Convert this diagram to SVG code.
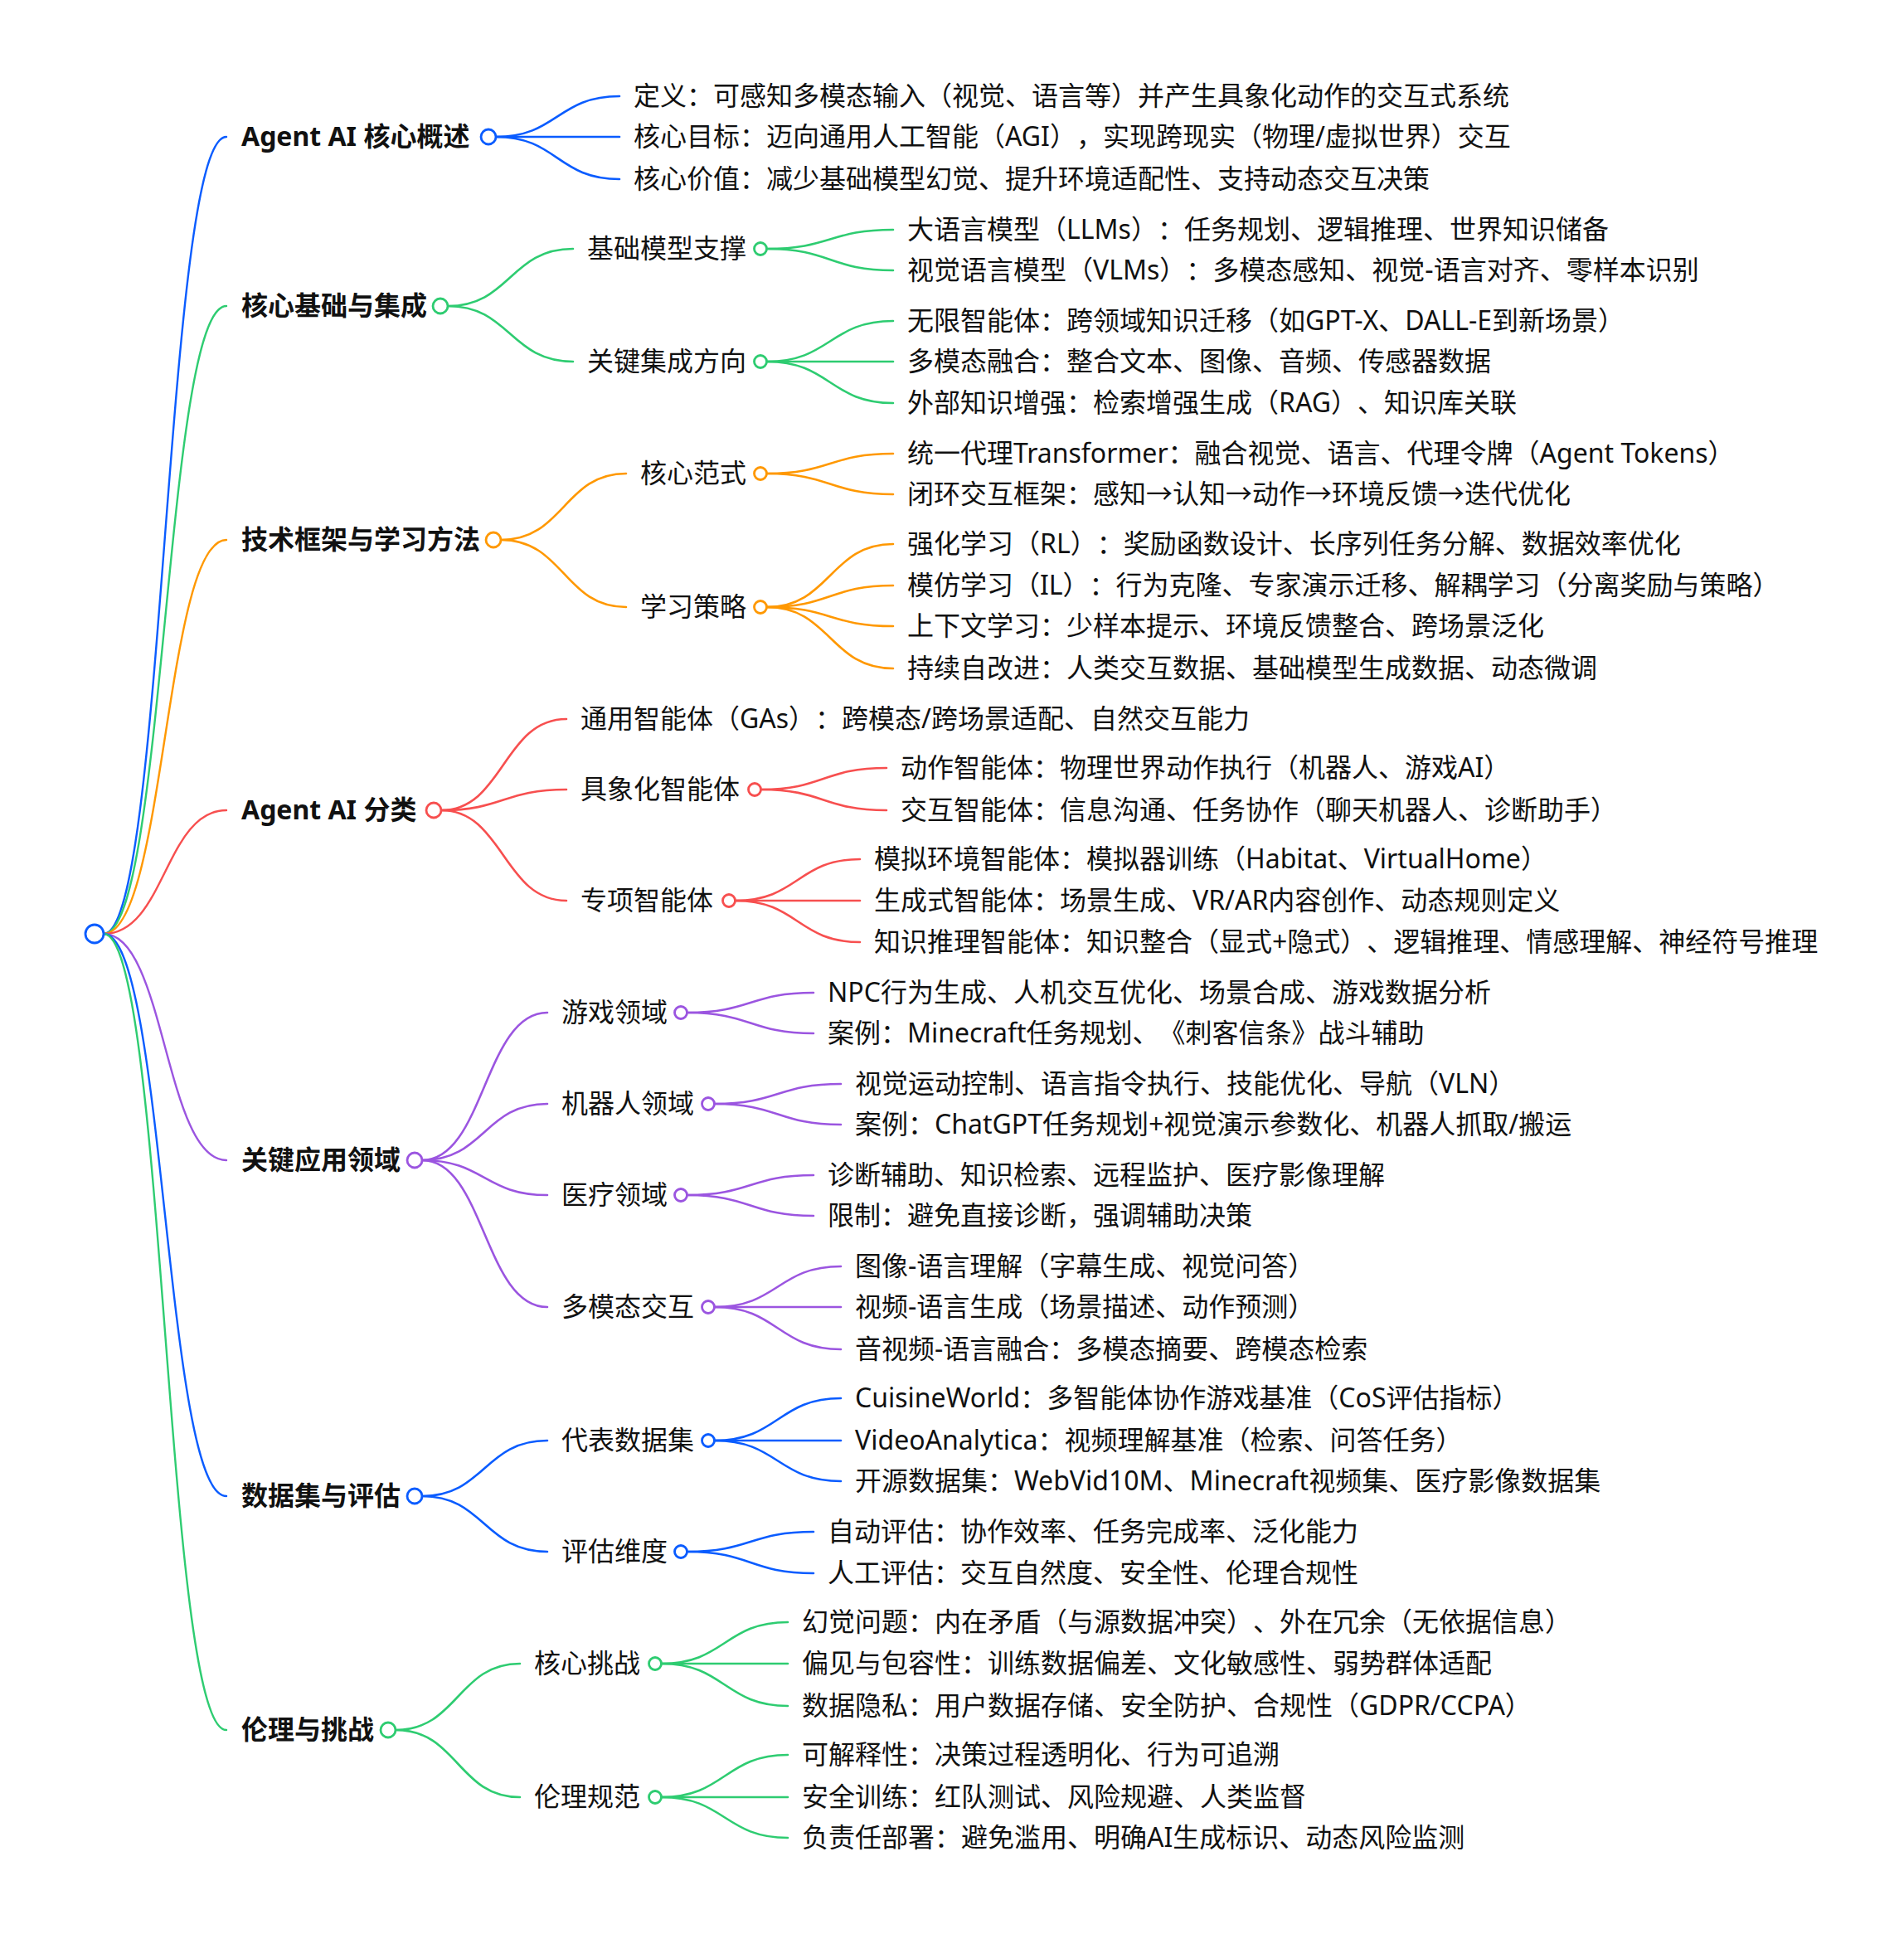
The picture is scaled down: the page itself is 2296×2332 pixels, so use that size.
<svg xmlns="http://www.w3.org/2000/svg" width="2296" height="2332" viewBox="0 0 2296 2332">
<style>
text{font-family:"Noto Sans","Noto Sans CJK SC",sans-serif;font-size:32px;fill:#111;text-spacing-trim:space-all;}
.l1{font-weight:bold;}
path{fill:none;stroke-width:2.6;stroke-linecap:round;}
.r{stroke-width:2.4;}
circle{fill:#fff;stroke-width:2.8;}
.b{stroke:#0a5cff;} .g{stroke:#2ecc71;} .o{stroke:#ff9800;} .rd{stroke:#f74f4f;} .p{stroke:#9b55e0;}
</style>
<rect width="2296" height="2332" fill="#fff"/>
<g id="connectors">
<path class="r b" d="M125,1126 C199,1126 199,165 273,165"/>
<path class="r g" d="M125,1126 C199,1126 199,369 273,369"/>
<path class="r o" d="M125,1126 C199,1126 199,651 273,651"/>
<path class="r rd" d="M125,1126 C199,1126 199,977 273,977"/>
<path class="r p" d="M125,1126 C199,1126 199,1399 273,1399"/>
<path class="r b" d="M125,1126 C199,1126 199,1804 273,1804"/>
<path class="r g" d="M125,1126 C199,1126 199,2086 273,2086"/>

<path class="b" d="M598,165 C672,165 672,116 747,116"/>
<path class="b" d="M598,165 L747,165"/>
<path class="b" d="M598,165 C672,165 672,216 747,216"/>

<path class="g" d="M540,369 C615,369 615,300 691,300"/>
<path class="g" d="M540,369 C615,369 615,436 691,436"/>
<path class="g" d="M925,300 C1001,300 1001,277 1077,277"/>
<path class="g" d="M925,300 C1001,300 1001,326 1077,326"/>
<path class="g" d="M925,436 C1001,436 1001,387 1077,387"/>
<path class="g" d="M925,436 L1077,436"/>
<path class="g" d="M925,436 C1001,436 1001,486 1077,486"/>

<path class="o" d="M604,651 C680,651 680,571 755,571"/>
<path class="o" d="M604,651 C680,651 680,732 755,732"/>
<path class="o" d="M925,571 C1001,571 1001,547 1077,547"/>
<path class="o" d="M925,571 C1001,571 1001,596 1077,596"/>
<path class="o" d="M925,732 C1001,732 1001,656 1077,656"/>
<path class="o" d="M925,732 C1001,732 1001,706 1077,706"/>
<path class="o" d="M925,732 C1001,732 1001,755 1077,755"/>
<path class="o" d="M925,732 C1001,732 1001,806 1077,806"/>

<path class="rd" d="M532,977 C607,977 607,867 683,867"/>
<path class="rd" d="M532,977 C607,977 607,952 683,952"/>
<path class="rd" d="M532,977 C607,977 607,1086 683,1086"/>
<path class="rd" d="M918,952 C993,952 993,926 1069,926"/>
<path class="rd" d="M918,952 C993,952 993,977 1069,977"/>
<path class="rd" d="M887,1086 C962,1086 962,1036 1037,1036"/>
<path class="rd" d="M887,1086 L1037,1086"/>
<path class="rd" d="M887,1086 C962,1086 962,1136 1037,1136"/>

<path class="p" d="M509,1399 C584,1399 584,1221 660,1221"/>
<path class="p" d="M509,1399 C584,1399 584,1331 660,1331"/>
<path class="p" d="M509,1399 C584,1399 584,1441 660,1441"/>
<path class="p" d="M509,1399 C584,1399 584,1576 660,1576"/>
<path class="p" d="M829,1221 C905,1221 905,1197 981,1197"/>
<path class="p" d="M829,1221 C905,1221 905,1246 981,1246"/>
<path class="p" d="M862,1331 C938,1331 938,1307 1014,1307"/>
<path class="p" d="M862,1331 C938,1331 938,1356 1014,1356"/>
<path class="p" d="M829,1441 C905,1441 905,1417 981,1417"/>
<path class="p" d="M829,1441 C905,1441 905,1466 981,1466"/>
<path class="p" d="M862,1576 C938,1576 938,1527 1014,1527"/>
<path class="p" d="M862,1576 L1014,1576"/>
<path class="p" d="M862,1576 C938,1576 938,1627 1014,1627"/>

<path class="b" d="M509,1804 C584,1804 584,1737 660,1737"/>
<path class="b" d="M509,1804 C584,1804 584,1871 660,1871"/>
<path class="b" d="M862,1737 C938,1737 938,1686 1014,1686"/>
<path class="b" d="M862,1737 L1014,1737"/>
<path class="b" d="M862,1737 C938,1737 938,1786 1014,1786"/>
<path class="b" d="M829,1871 C905,1871 905,1847 981,1847"/>
<path class="b" d="M829,1871 C905,1871 905,1897 981,1897"/>

<path class="g" d="M477,2086 C552,2086 552,2006 627,2006"/>
<path class="g" d="M477,2086 C552,2086 552,2167 627,2167"/>
<path class="g" d="M798,2006 C874,2006 874,1956 950,1956"/>
<path class="g" d="M798,2006 L950,2006"/>
<path class="g" d="M798,2006 C874,2006 874,2057 950,2057"/>
<path class="g" d="M798,2167 C874,2167 874,2116 950,2116"/>
<path class="g" d="M798,2167 L950,2167"/>
<path class="g" d="M798,2167 C874,2167 874,2216 950,2216"/>
</g>

<g id="root"><circle class="b" cx="114" cy="1126" r="11"/></g>

<g id="n1"><text class="l1" x="291" y="176">Agent AI 核心概述</text><circle class="b" cx="589" cy="165" r="9"/></g>
<g id="n1-1"><text x="764" y="127">定义：可感知多模态输入（视觉、语言等）并产生具象化动作的交互式系统</text></g>
<g id="n1-2"><text x="764" y="176">核心目标：迈向通用人工智能（AGI），实现跨现实（物理/虚拟世界）交互</text></g>
<g id="n1-3"><text x="764" y="227">核心价值：减少基础模型幻觉、提升环境适配性、支持动态交互决策</text></g>

<g id="n2"><text class="l1" x="291" y="380">核心基础与集成</text><circle class="g" cx="531" cy="369" r="9"/></g>
<g id="n2-1"><text x="708" y="311">基础模型支撑</text><circle class="g" cx="917" cy="300" r="7.5"/></g>
<g id="n2-1-1"><text x="1094" y="288">大语言模型（LLMs）：任务规划、逻辑推理、世界知识储备</text></g>
<g id="n2-1-2"><text x="1094" y="337">视觉语言模型（VLMs）：多模态感知、视觉-语言对齐、零样本识别</text></g>
<g id="n2-2"><text x="708" y="447">关键集成方向</text><circle class="g" cx="917" cy="436" r="7.5"/></g>
<g id="n2-2-1"><text x="1094" y="398">无限智能体：跨领域知识迁移（如GPT-X、DALL-E到新场景）</text></g>
<g id="n2-2-2"><text x="1094" y="447">多模态融合：整合文本、图像、音频、传感器数据</text></g>
<g id="n2-2-3"><text x="1094" y="497">外部知识增强：检索增强生成（RAG）、知识库关联</text></g>

<g id="n3"><text class="l1" x="291" y="662">技术框架与学习方法</text><circle class="o" cx="595" cy="651" r="9"/></g>
<g id="n3-1"><text x="772" y="582">核心范式</text><circle class="o" cx="917" cy="571" r="7.5"/></g>
<g id="n3-1-1"><text x="1094" y="558">统一代理Transformer：融合视觉、语言、代理令牌（Agent Tokens）</text></g>
<g id="n3-1-2"><text x="1094" y="607">闭环交互框架：感知→认知→动作→环境反馈→迭代优化</text></g>
<g id="n3-2"><text x="772" y="743">学习策略</text><circle class="o" cx="917" cy="732" r="7.5"/></g>
<g id="n3-2-1"><text x="1094" y="667">强化学习（RL）：奖励函数设计、长序列任务分解、数据效率优化</text></g>
<g id="n3-2-2"><text x="1094" y="717">模仿学习（IL）：行为克隆、专家演示迁移、解耦学习（分离奖励与策略）</text></g>
<g id="n3-2-3"><text x="1094" y="766">上下文学习：少样本提示、环境反馈整合、跨场景泛化</text></g>
<g id="n3-2-4"><text x="1094" y="817">持续自改进：人类交互数据、基础模型生成数据、动态微调</text></g>

<g id="n4"><text class="l1" x="291" y="988">Agent AI 分类</text><circle class="rd" cx="523" cy="977" r="9"/></g>
<g id="n4-1"><text x="700" y="878">通用智能体（GAs）：跨模态/跨场景适配、自然交互能力</text></g>
<g id="n4-2"><text x="700" y="963">具象化智能体</text><circle class="rd" cx="910" cy="952" r="7.5"/></g>
<g id="n4-2-1"><text x="1086" y="937">动作智能体：物理世界动作执行（机器人、游戏AI）</text></g>
<g id="n4-2-2"><text x="1086" y="988">交互智能体：信息沟通、任务协作（聊天机器人、诊断助手）</text></g>
<g id="n4-3"><text x="700" y="1097">专项智能体</text><circle class="rd" cx="879" cy="1086" r="7.5"/></g>
<g id="n4-3-1"><text x="1054" y="1047">模拟环境智能体：模拟器训练（Habitat、VirtualHome）</text></g>
<g id="n4-3-2"><text x="1054" y="1097">生成式智能体：场景生成、VR/AR内容创作、动态规则定义</text></g>
<g id="n4-3-3"><text x="1054" y="1147">知识推理智能体：知识整合（显式+隐式）、逻辑推理、情感理解、神经符号推理</text></g>

<g id="n5"><text class="l1" x="291" y="1410">关键应用领域</text><circle class="p" cx="500" cy="1399" r="9"/></g>
<g id="n5-1"><text x="677" y="1232">游戏领域</text><circle class="p" cx="821" cy="1221" r="7.5"/></g>
<g id="n5-1-1"><text x="998" y="1208">NPC行为生成、人机交互优化、场景合成、游戏数据分析</text></g>
<g id="n5-1-2"><text x="998" y="1257">案例：Minecraft任务规划、《刺客信条》战斗辅助</text></g>
<g id="n5-2"><text x="677" y="1342">机器人领域</text><circle class="p" cx="854" cy="1331" r="7.5"/></g>
<g id="n5-2-1"><text x="1031" y="1318">视觉运动控制、语言指令执行、技能优化、导航（VLN）</text></g>
<g id="n5-2-2"><text x="1031" y="1367">案例：ChatGPT任务规划+视觉演示参数化、机器人抓取/搬运</text></g>
<g id="n5-3"><text x="677" y="1452">医疗领域</text><circle class="p" cx="821" cy="1441" r="7.5"/></g>
<g id="n5-3-1"><text x="998" y="1428">诊断辅助、知识检索、远程监护、医疗影像理解</text></g>
<g id="n5-3-2"><text x="998" y="1477">限制：避免直接诊断，强调辅助决策</text></g>
<g id="n5-4"><text x="677" y="1587">多模态交互</text><circle class="p" cx="854" cy="1576" r="7.5"/></g>
<g id="n5-4-1"><text x="1031" y="1538">图像-语言理解（字幕生成、视觉问答）</text></g>
<g id="n5-4-2"><text x="1031" y="1587">视频-语言生成（场景描述、动作预测）</text></g>
<g id="n5-4-3"><text x="1031" y="1638">音视频-语言融合：多模态摘要、跨模态检索</text></g>

<g id="n6"><text class="l1" x="291" y="1815">数据集与评估</text><circle class="b" cx="500" cy="1804" r="9"/></g>
<g id="n6-1"><text x="677" y="1748">代表数据集</text><circle class="b" cx="854" cy="1737" r="7.5"/></g>
<g id="n6-1-1"><text x="1031" y="1697">CuisineWorld：多智能体协作游戏基准（CoS评估指标）</text></g>
<g id="n6-1-2"><text x="1031" y="1748">VideoAnalytica：视频理解基准（检索、问答任务）</text></g>
<g id="n6-1-3"><text x="1031" y="1797">开源数据集：WebVid10M、Minecraft视频集、医疗影像数据集</text></g>
<g id="n6-2"><text x="677" y="1882">评估维度</text><circle class="b" cx="821" cy="1871" r="7.5"/></g>
<g id="n6-2-1"><text x="998" y="1858">自动评估：协作效率、任务完成率、泛化能力</text></g>
<g id="n6-2-2"><text x="998" y="1908">人工评估：交互自然度、安全性、伦理合规性</text></g>

<g id="n7"><text class="l1" x="291" y="2097">伦理与挑战</text><circle class="g" cx="468" cy="2086" r="9"/></g>
<g id="n7-1"><text x="644" y="2017">核心挑战</text><circle class="g" cx="790" cy="2006" r="7.5"/></g>
<g id="n7-1-1"><text x="967" y="1967">幻觉问题：内在矛盾（与源数据冲突）、外在冗余（无依据信息）</text></g>
<g id="n7-1-2"><text x="967" y="2017">偏见与包容性：训练数据偏差、文化敏感性、弱势群体适配</text></g>
<g id="n7-1-3"><text x="967" y="2068">数据隐私：用户数据存储、安全防护、合规性（GDPR/CCPA）</text></g>
<g id="n7-2"><text x="644" y="2178">伦理规范</text><circle class="g" cx="790" cy="2167" r="7.5"/></g>
<g id="n7-2-1"><text x="967" y="2127">可解释性：决策过程透明化、行为可追溯</text></g>
<g id="n7-2-2"><text x="967" y="2178">安全训练：红队测试、风险规避、人类监督</text></g>
<g id="n7-2-3"><text x="967" y="2227">负责任部署：避免滥用、明确AI生成标识、动态风险监测</text></g>
</svg>
